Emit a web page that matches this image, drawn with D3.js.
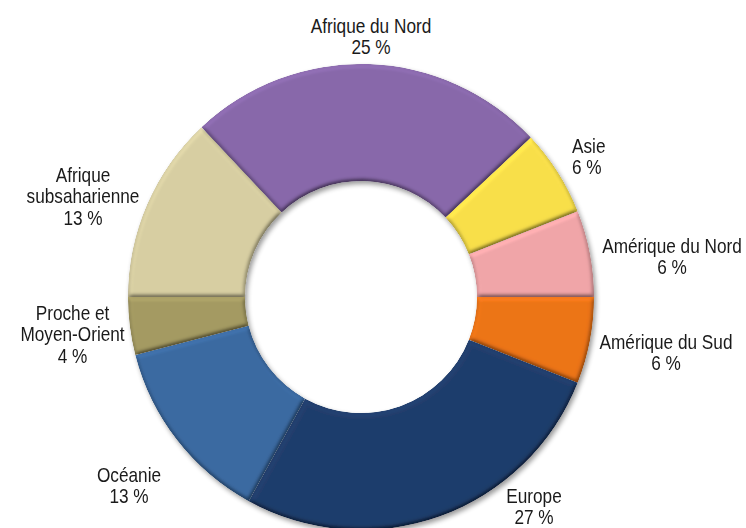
<!DOCTYPE html>
<html><head><meta charset="utf-8">
<script src="https://cdn.jsdelivr.net/npm/d3@7"></script>
<style>html,body{margin:0;padding:0;background:#fff;} svg{display:block}</style>
</head><body><svg id="chart" width="746" height="528"></svg>
<script>
// ---- data ----
const categories = ["Amérique du Sud","Europe","Océanie","Proche et Moyen-Orient","Afrique subsaharienne","Afrique du Nord","Asie","Amérique du Nord"];
const values = [6, 27, 13, 4, 13, 25, 6, 6];
const labelLines = [["Amérique du Sud"],["Europe"],["Océanie"],["Proche et","Moyen-Orient"],["Afrique","subsaharienne"],["Afrique du Nord"],["Asie"],["Amérique du Nord"]];
const colors = ["#ec7418","#1f3d6b","#3b6aa1","#a49a62","#d7cea2","#8868aa","#f8df4a","#f0a5a8"];

// ---- layout ----
const W = 746, H = 528;
const cx = 361, cy = 297, R = 233, r0 = 116;
const svg = d3.select("#chart");

// label placement (anchor, x, baseline of first line)
const labelLayout = [
  {anchor:"middle", x:666, y:349},
  {anchor:"middle", x:534, y:503},
  {anchor:"middle", x:129, y:482},
  {anchor:"middle", x:72.5, y:320},
  {anchor:"middle", x:83, y:182},
  {anchor:"middle", x:371, y:33},
  {anchor:"start",  x:572, y:153},
  {anchor:"middle", x:672, y:253}
];
const lineH = 21.3;

const defs = svg.append("defs");
// drop shadow
const sh = defs.append("filter").attr("id","shadow").attr("x","-10%").attr("y","-10%").attr("width","120%").attr("height","120%");
sh.append("feGaussianBlur").attr("in","SourceAlpha").attr("stdDeviation",2.5).attr("result","b");
sh.append("feOffset").attr("in","b").attr("dx",2).attr("dy",3).attr("result","o");
sh.append("feComponentTransfer").attr("in","o").attr("result","os")
  .append("feFuncA").attr("type","linear").attr("slope",0.4);
const shm = sh.append("feMerge");
shm.append("feMergeNode").attr("in","os");
shm.append("feMergeNode").attr("in","SourceGraphic");

// bevel
const bv = defs.append("filter").attr("id","bevel").attr("x","-5%").attr("y","-5%").attr("width","110%").attr("height","110%");
bv.append("feGaussianBlur").attr("in","SourceAlpha").attr("stdDeviation",2.2).attr("result","blur");
bv.append("feDiffuseLighting").attr("in","blur").attr("surfaceScale",3).attr("diffuseConstant",1)
  .attr("lighting-color","#ffffff").attr("result","light")
  .append("feDistantLight").attr("azimuth",250).attr("elevation",60);
bv.append("feComposite").attr("in","SourceGraphic").attr("in2","light")
  .attr("operator","arithmetic").attr("k1",1.155).attr("k2",0).attr("k3",0).attr("k4",0).attr("result","lit");
bv.append("feComposite").attr("in","lit").attr("in2","SourceAlpha").attr("operator","in");

const pie = d3.pie().sort(null).value(d => d)
  .startAngle(Math.PI/2).endAngle(Math.PI/2 + 2*Math.PI);
const arcs = pie(values);
const arc = d3.arc().innerRadius(r0).outerRadius(R);

const g = svg.append("g").attr("transform",`translate(${cx},${cy})`).attr("filter","url(#shadow)");
g.selectAll("path").data(arcs).enter().append("path")
  .attr("d", arc)
  .attr("fill", (d,i) => colors[i])
  .attr("filter","url(#bevel)");

// fonts
function measure(font){
  const t = svg.append("text").style("font-family",font).style("font-size","21px").text("Amérique du Nord");
  const w = t.node().getComputedTextLength(); t.remove(); return w;
}
const wN = measure("'Liberation Sans Narrow'"), wR = measure("'Liberation Sans'");
const useNarrow = wN < wR*0.9;
const fam = useNarrow ? "'Liberation Sans Narrow', Arial Narrow, sans-serif" : "'Liberation Sans', Arial, sans-serif";
const sx = useNarrow ? 1 : 0.82;

arcs.forEach((d,i) => {
  const L = labelLayout[i];
  const lines = labelLines[i].concat([values[i] + " %"]);
  const t = svg.append("text")
    .attr("transform", `translate(${L.x},0) scale(${sx},1)`)
    .attr("text-anchor", L.anchor)
    .style("font-family", fam).style("font-size","21px").attr("fill","#1a1a1a");
  lines.forEach((s,k) => {
    t.append("tspan").attr("x",0).attr("y", L.y + k*lineH).text(s);
  });
});
</script></body></html>
